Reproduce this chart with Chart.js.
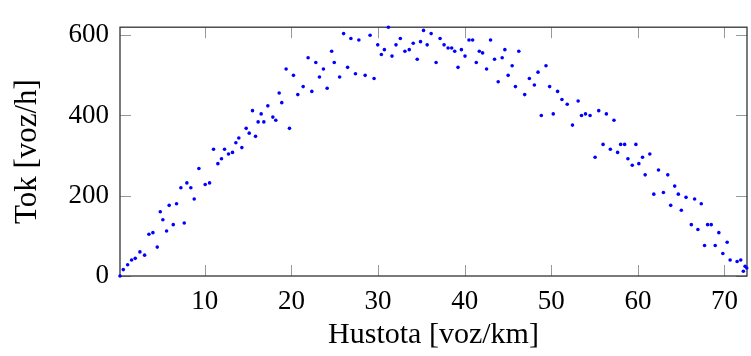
<!DOCTYPE html>
<html>
<head>
<meta charset="utf-8">
<script src="https://cdn.jsdelivr.net/npm/chart.js"></script>
<style>
  html, body { margin: 0; padding: 0; background: #fff; }
</style>
</head>
<body>
<canvas id="chart" width="751" height="356"></canvas>
<script>
// hustota [voz/km]
var hustota = [
  0.2, 0.58, 1.08, 1.54, 1.96, 2.5, 3.04, 3.54, 4.0, 4.5, 4.85, 5.15, 5.58, 5.88, 6.35, 6.73,
  7.23, 7.62, 7.92, 8.38, 8.77, 9.31, 10.04, 10.54, 11.0, 11.5, 11.92, 12.27, 12.73, 13.19,
  13.58, 13.92, 14.27, 14.77, 15.12, 15.5, 15.85, 16.15, 16.5, 16.81, 17.27, 17.85, 18.19,
  18.58, 18.88, 19.38, 19.77, 20.23, 20.73, 21.35, 21.92, 22.35, 22.81, 23.23, 23.69, 24.12,
  24.64, 24.94, 25.56, 26.02, 26.48, 26.86, 27.39, 27.78, 28.51, 29.08, 29.54, 29.96, 30.38,
  30.73, 31.19, 31.61, 32.07, 32.57, 33.1, 33.6, 34.06, 34.52, 34.9, 35.25, 35.67, 36.13,
  36.7, 37.16, 37.62, 38.08, 38.5, 38.85, 39.23, 39.62, 40.04, 40.5, 40.92, 41.34, 41.69,
  42.07, 42.53, 42.99, 43.45, 43.87, 44.33, 44.64, 45.02, 45.48, 45.86, 46.25, 46.93, 47.47,
  48.05, 48.47, 48.85, 49.39, 49.81, 50.23, 50.73, 51.23, 51.84, 52.45, 53.1, 53.49, 53.95,
  54.48, 55.06, 55.48, 55.98, 56.36, 56.82, 57.24, 57.66, 58.01, 58.47, 58.85, 59.35, 59.77,
  60.11, 60.54, 60.84, 61.38, 61.84, 62.38, 62.95, 63.45, 63.79, 64.25, 64.67, 65.02, 65.56,
  66.17, 66.55, 66.93, 67.32, 67.7, 68.05, 68.47, 68.93, 69.35, 69.81, 70.31, 70.65, 71.46,
  71.88, 72.18, 72.38, 72.57
];
// tok [voz/h]
var tok = [
  0, 16, 28, 40, 44, 60, 52, 104, 108, 72, 160, 140, 112, 176, 128, 180,
  220, 132, 232, 220, 192, 268, 228, 232, 316, 280, 292, 316, 304, 308,
  332, 344, 320, 368, 356, 412, 348, 384, 404, 384, 424, 396, 388,
  456, 432, 516, 368, 500, 452, 472, 544, 460, 532, 496, 516, 468,
  560, 532, 496, 604, 520, 592, 504, 588, 500, 600, 492, 576, 552,
  564, 620, 548, 576, 592, 560, 564, 580, 540, 584, 612, 576, 604,
  532, 592, 576, 568, 568, 560, 520, 564, 548, 588, 588, 532, 560,
  556, 516, 588, 540, 484, 544, 564, 500, 524, 472, 560, 452, 492,
  476, 508, 400, 524, 472, 404, 460, 440, 428, 376, 436, 400, 404,
  400, 296, 412, 328, 404, 316, 388, 308, 328, 328, 292, 276, 328,
  280, 296, 252, 304, 204, 264, 208, 252, 176, 224, 204, 164, 196,
  128, 192, 116, 180, 76, 128, 128, 76, 108, 56, 84, 40, 36,
  40, 12, 24, 20
];
var xTicks = [10, 20, 30, 40, 50, 60, 70];
var yTicks = [0, 200, 400, 600];
var xRange = [0.2, 72.6];
var yRange = [0, 620];

var serif = "'Liberation Serif', 'DejaVu Serif', serif";

var points = hustota.map(function (x, i) {
  return { x: x, y: tok[i] };
});

// pgfplots style box with inward tick marks
var frame = {
  id: "frame",
  beforeDatasetsDraw: function (chart) {
    var c = chart.ctx, a = chart.chartArea;
    var xs = chart.scales.x, ys = chart.scales.y;
    var len = 11;
    c.save();
    c.strokeStyle = "#999";
    c.lineWidth = 1;
    c.beginPath();
    xs.ticks.forEach(function (t) {
      var p = Math.round(xs.getPixelForValue(t.value)) + 0.5;
      c.moveTo(p, a.bottom); c.lineTo(p, a.bottom - len);
      c.moveTo(p, a.top); c.lineTo(p, a.top + len);
    });
    ys.ticks.forEach(function (t) {
      var p = Math.round(ys.getPixelForValue(t.value)) + 0.5;
      c.moveTo(a.left, p); c.lineTo(a.left + len, p);
      c.moveTo(a.right, p); c.lineTo(a.right - len, p);
    });
    c.stroke();
    c.strokeStyle = "#333";
    c.lineWidth = 1.3;
    c.strokeRect(a.left, a.top, a.right - a.left, a.bottom - a.top);
    c.restore();
  },
};

function fixTicks(list) {
  return function (s) {
    s.ticks = list.map(function (v) { return { value: v }; });
  };
}

var ctx = document.getElementById("chart").getContext("2d");
var chart = new Chart(ctx, {
  type: "scatter",
  data: {
    datasets: [
      {
        data: points,
        pointRadius: 1.8,
        pointBorderWidth: 0,
        pointBackgroundColor: "#0000ff",
        clip: false,
      },
    ],
  },
  options: {
    responsive: false,
    animation: false,
    layout: { padding: { top: 17, right: 1, left: 0, bottom: 0 } },
    plugins: { legend: { display: false }, tooltip: { enabled: false } },
    scales: {
      x: {
        type: "linear",
        min: xRange[0],
        max: xRange[1],
        afterBuildTicks: fixTicks(xTicks),
        afterFit: function (s) { s.height = 80; },
        grid: { display: false, drawTicks: false },
        border: { display: false },
        ticks: {
          maxRotation: 0,
          autoSkip: false,
          padding: 10,
          color: "#000",
          font: { family: serif, size: 27 },
        },
        title: {
          display: true,
          text: "Hustota [voz/km]",
          color: "#000",
          font: { family: serif, size: 30, lineHeight: 1 },
          padding: { top: 6, bottom: 6 },
        },
      },
      y: {
        min: yRange[0],
        max: yRange[1],
        afterBuildTicks: fixTicks(yTicks),
        afterFit: function (s) { s.width = 120; },
        grid: { display: false, drawTicks: false },
        border: { display: false },
        ticks: {
          autoSkip: false,
          padding: 11,
          color: "#000",
          font: { family: serif, size: 27 },
        },
        title: {
          display: true,
          text: "Tok [voz/h]",
          color: "#000",
          font: { family: serif, size: 31, lineHeight: 1 },
          padding: { top: 12, bottom: 12 },
        },
      },
    },
  },
  plugins: [frame],
});
</script>
</body>
</html>
